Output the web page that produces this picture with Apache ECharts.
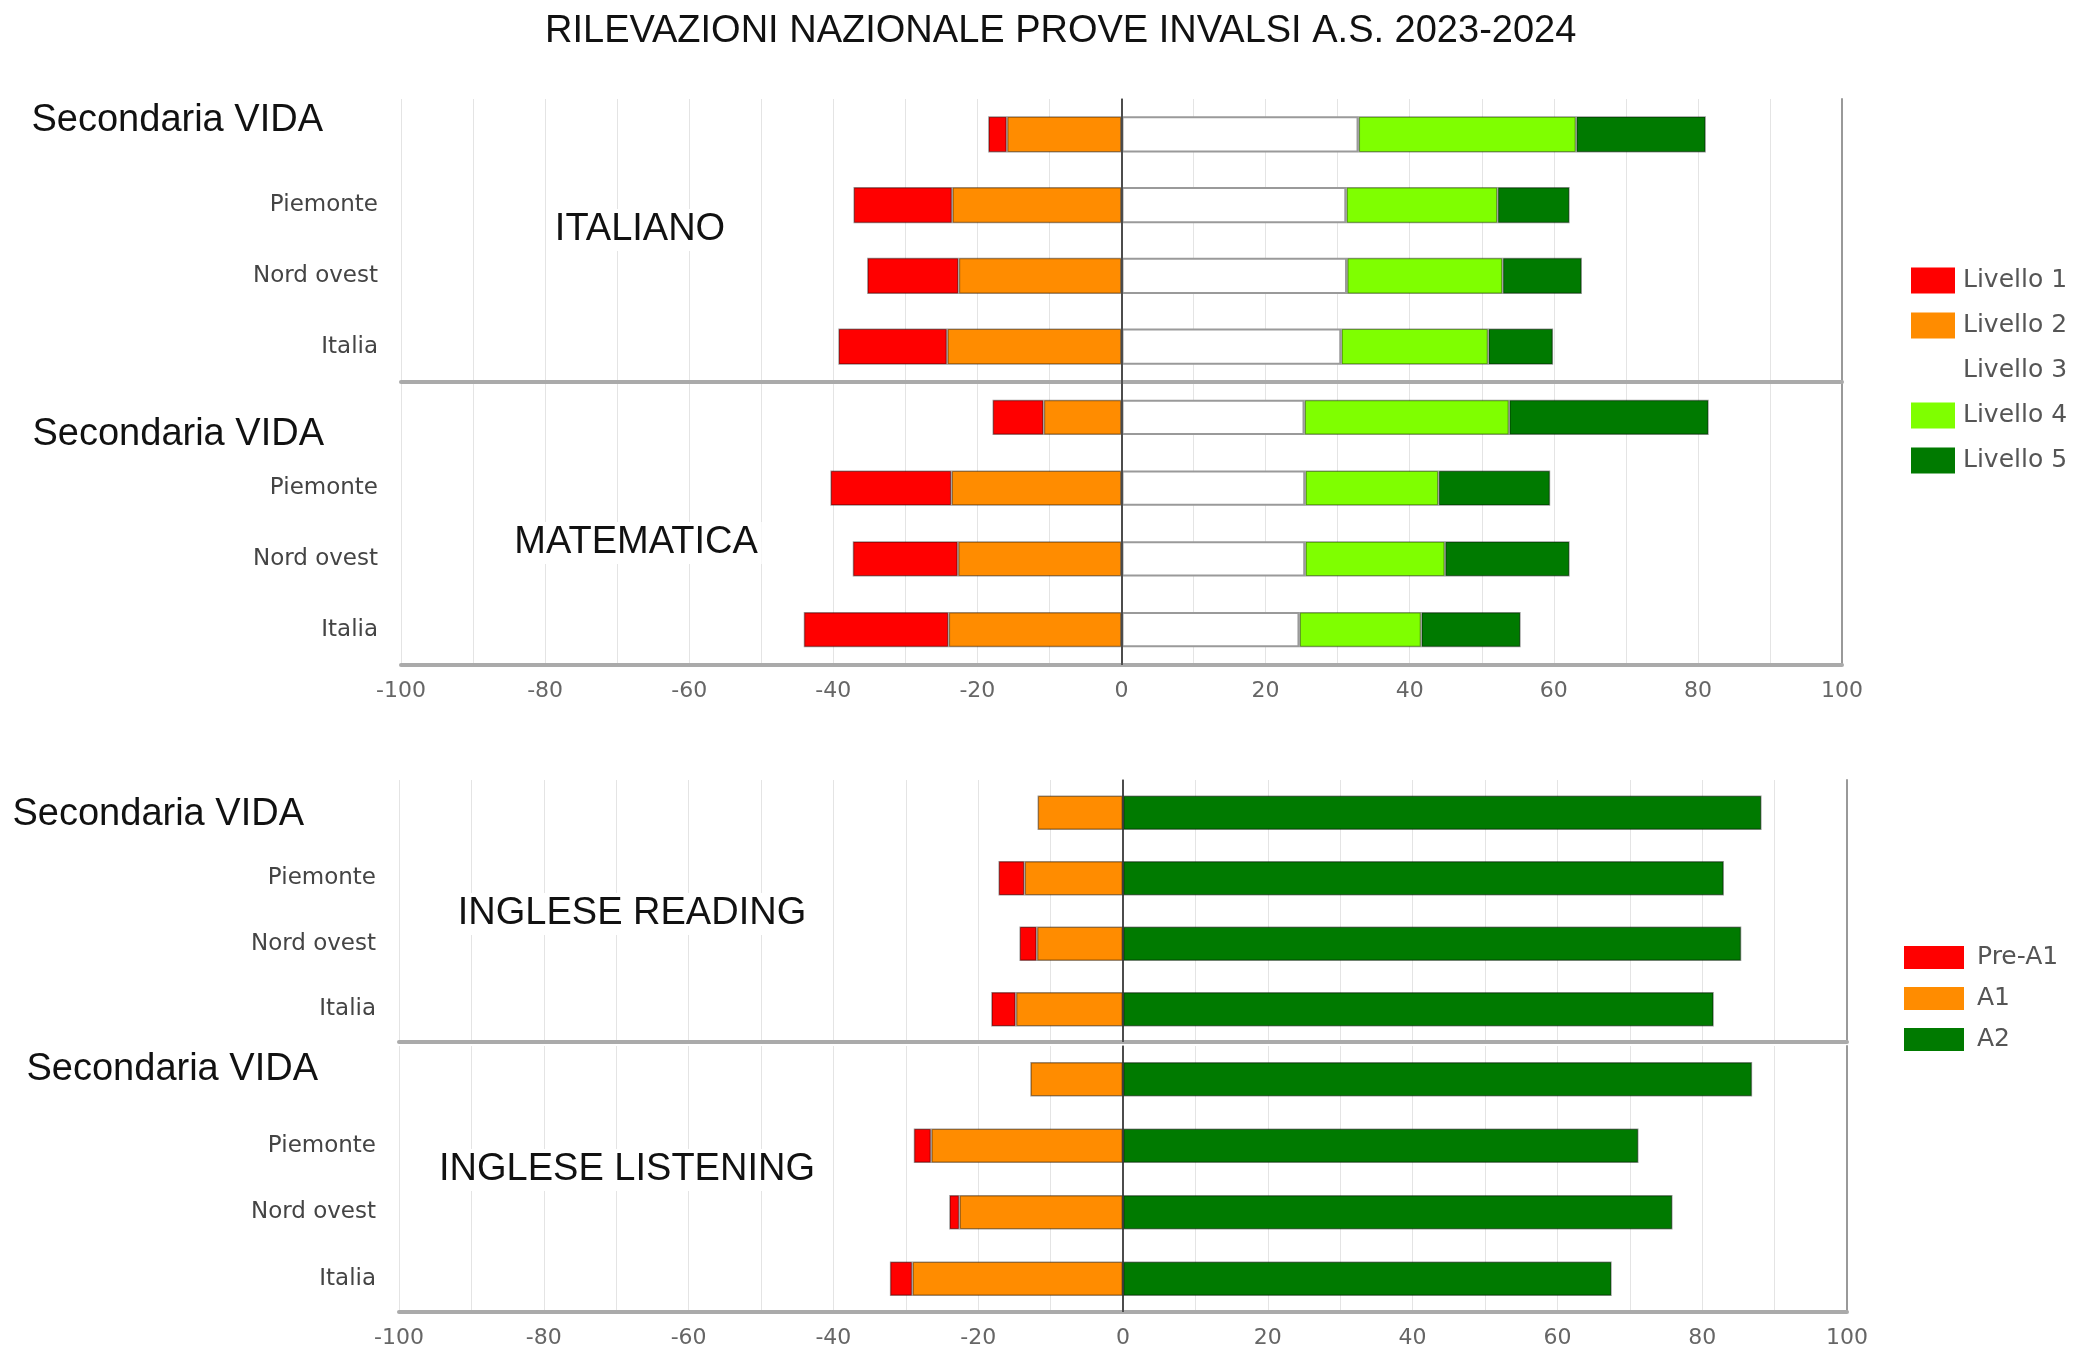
<!DOCTYPE html>
<html>
<head>
<meta charset="utf-8">
<title>Rilevazioni INVALSI 2023-2024</title>
<script src="https://cdn.jsdelivr.net/npm/echarts@6/dist/echarts.min.js"></script>
<style>
html, body { margin: 0; padding: 0; background: #fff; }
#chart { width: 2079px; height: 1349px; }
</style>
</head>
<body>
<div id="chart"></div>
<script>
// categorie, dall'alto verso il basso
const categorie = ['Secondaria VIDA', 'Piemonte', 'Nord ovest', 'Italia'];
const materie = ['ITALIANO', 'MATEMATICA', 'INGLESE READING', 'INGLESE LISTENING'];
const livelli = ['Livello 1', 'Livello 2', 'Livello 3', 'Livello 4', 'Livello 5'];
const livelliInglese = ['Pre-A1', 'A1', 'A2'];

// percentuali per livello (Italiano)
const itaL1 = [2.6, 13.7, 12.7, 15.1];
const itaL2 = [15.9, 23.5, 22.6, 24.2];
const itaL3 = [32.9, 31.2, 31.3, 30.5];
const itaL4 = [30.2, 21.0, 21.6, 20.4];
const itaL5 = [18.0, 10.0, 11.0, 9.0];

// Matematica
const matL1 = [7.1, 16.8, 14.6, 20.1];
const matL2 = [10.8, 23.6, 22.7, 24.0];
const matL3 = [25.4, 25.5, 25.5, 24.7];
const matL4 = [28.4, 18.5, 19.4, 16.9];
const matL5 = [27.7, 15.5, 17.3, 13.8];

// Inglese reading
const readPreA1 = [0, 3.6, 2.4, 3.4];
const readA1 = [11.8, 13.6, 11.9, 14.8];
const readA2 = [88.2, 83.0, 85.4, 81.6];

// Inglese listening
const listPreA1 = [0, 2.4, 1.4, 3.1];
const listA1 = [12.8, 26.5, 22.6, 29.1];
const listA2 = [86.9, 71.2, 75.9, 67.5];

// scala asse x
const xMin = -100, xMax = 100, xPasso = 20;

const coloriLivelli = ['#ff0000', '#ff8c00', '#ffffff', '#7fff00', '#007a00'];
const coloriInglese = ['#ff0000', '#ff8c00', '#007a00'];

// layout dei quattro pannelli
const pannelli = [
  { grid: { left: 401, top: 99, width: 1441, height: 283 }, etichette: false, barra: '51%', vida: { dx: 55, dy: -14 }, testo: [640, 230] },
  { grid: { left: 401, top: 382, width: 1441, height: 283 }, etichette: true, barra: '50%', vida: { dx: 54, dy: 17 }, testo: [636, 543] },
  { grid: { left: 399, top: 780, width: 1448, height: 262 }, etichette: false, barra: '53%', vida: { dx: 72, dy: 2 }, testo: [632, 914] },
  { grid: { left: 399, top: 1046, width: 1448, height: 266 }, etichette: true, barra: '52%', vida: { dx: 58, dy: -10 }, testo: [627, 1170] }
];

let chartInstance = echarts.init(document.getElementById('chart'));

let grids = [], xAxes = [], yAxes = [], series = [], graphic = [];

pannelli.forEach(function (p, i) {
  grids.push(Object.assign({ containLabel: false }, p.grid));

  xAxes.push({
    type: 'value',
    gridIndex: i,
    min: xMin,
    max: xMax,
    interval: xPasso,
    axisLine: { show: true, onZero: false, lineStyle: { color: '#aaaaaa', width: 4 } },
    axisTick: { show: false },
    axisLabel: {
      show: p.etichette,
      margin: 15,
      fontFamily: 'DejaVu Sans',
      fontSize: 22,
      color: '#666'
    },
    splitLine: { show: true, lineStyle: { color: '#e4e4e4', width: 1 } },
    minorTick: { show: false, splitNumber: 2 },
    minorSplitLine: { show: true, lineStyle: { color: '#e4e4e4', width: 1 } }
  });

  // padding per spostare "Secondaria VIDA" come nell'originale
  let dy = p.vida.dy;
  let pad = dy < 0 ? [0, p.vida.dx, -2 * dy, 0] : [2 * dy, p.vida.dx, 0, 0];

  yAxes.push({
    type: 'category',
    gridIndex: i,
    data: categorie,
    inverse: true,
    axisLine: { show: true, lineStyle: { color: '#999', width: 2 } },
    axisTick: { show: false },
    splitLine: { show: false },
    axisLabel: {
      margin: 23,
      fontFamily: 'DejaVu Sans',
      fontSize: 23,
      color: '#444',
      formatter: function (v) {
        return v === 'Secondaria VIDA' ? '{vida|' + v + '}' : v;
      },
      rich: {
        vida: {
          fontFamily: 'Liberation Sans',
          fontSize: 38,
          color: '#111',
          padding: pad
        }
      }
    }
  });
  // bordo destro
  yAxes.push({
    type: 'category',
    gridIndex: i,
    position: 'right',
    data: categorie,
    inverse: true,
    axisLine: { show: true, lineStyle: { color: '#999', width: 2 } },
    axisTick: { show: false },
    axisLabel: { show: false },
    splitLine: { show: false }
  });

  graphic.push({
    type: 'text',
    x: p.testo[0],
    y: p.testo[1],
    silent: true,
    z: 10,
    style: {
      text: materie[i],
      font: '38px "Liberation Sans"',
      fill: '#111',
      backgroundColor: '#ffffff',
      padding: [2, 4],
      align: 'center',
      verticalAlign: 'middle',
      textAlign: 'center',
      textVerticalAlign: 'middle'
    }
  });
});

function barra(nome, i, dati, colore, negativo) {
  return {
    name: nome,
    type: 'bar',
    xAxisIndex: i,
    yAxisIndex: 2 * i,
    stack: 'p' + i,
    barWidth: pannelli[i].barra,
    data: dati.map(function (v) { return v ? (negativo ? -v : v) : '-'; }),
    itemStyle: {
      color: colore,
      borderColor: colore === '#ffffff' ? '#9a9a9a' : 'rgba(0,0,0,0.4)',
      borderWidth: colore === '#ffffff' ? 2 : 1.5
    },
    emphasis: { disabled: true }
  };
}

function lineaZero(s) {
  s.markLine = {
    silent: true,
    symbol: ['none', 'none'],
    label: { show: false },
    lineStyle: { color: '#333', width: 1.5, type: 'solid' },
    data: [{ xAxis: 0 }]
  };
  return s;
}

// pannelli Italiano e Matematica: livelli 2 e 1 a sinistra, 3-4-5 a destra
[[itaL1, itaL2, itaL3, itaL4, itaL5], [matL1, matL2, matL3, matL4, matL5]].forEach(function (d, i) {
  series.push(lineaZero(barra(livelli[1], i, d[1], coloriLivelli[1], true)));
  series.push(barra(livelli[0], i, d[0], coloriLivelli[0], true));
  series.push(barra(livelli[2], i, d[2], coloriLivelli[2], false));
  series.push(barra(livelli[3], i, d[3], coloriLivelli[3], false));
  series.push(barra(livelli[4], i, d[4], coloriLivelli[4], false));
});

// pannelli Inglese
[[readPreA1, readA1, readA2], [listPreA1, listA1, listA2]].forEach(function (d, k) {
  let i = k + 2;
  series.push(lineaZero(barra(livelliInglese[1], i, d[1], coloriInglese[1], true)));
  series.push(barra(livelliInglese[0], i, d[0], coloriInglese[0], true));
  series.push(barra(livelliInglese[2], i, d[2], coloriInglese[2], false));
});

let option = {
  animation: false,
  backgroundColor: '#ffffff',
  color: coloriLivelli,
  title: {
    text: 'RILEVAZIONI NAZIONALE PROVE INVALSI A.S. 2023-2024',
    left: 540,
    top: 8,
    textStyle: {
      fontFamily: 'Liberation Sans',
      fontSize: 38,
      fontWeight: 'normal',
      color: '#111'
    }
  },
  legend: [
    {
      data: livelli,
      orient: 'vertical',
      left: 1906,
      top: 262,
      icon: 'rect',
      itemWidth: 44,
      itemHeight: 26,
      itemGap: 18,
      itemStyle: { borderWidth: 0 },
      textStyle: { fontFamily: 'DejaVu Sans', fontSize: 25, color: '#555', lineHeight: 27, padding: [0, 0, 0, 3] },
      selectedMode: false
    },
    {
      data: livelliInglese,
      orient: 'vertical',
      left: 1899,
      top: 940,
      icon: 'rect',
      itemWidth: 60,
      itemHeight: 23,
      itemGap: 16,
      itemStyle: { borderWidth: 0 },
      textStyle: { fontFamily: 'DejaVu Sans', fontSize: 25, color: '#555', lineHeight: 25, padding: [0, 0, 0, 8] },
      selectedMode: false
    }
  ],
  grid: grids,
  xAxis: xAxes,
  yAxis: yAxes,
  graphic: graphic,
  series: series
};

chartInstance.setOption(option);
</script>
</body>
</html>
